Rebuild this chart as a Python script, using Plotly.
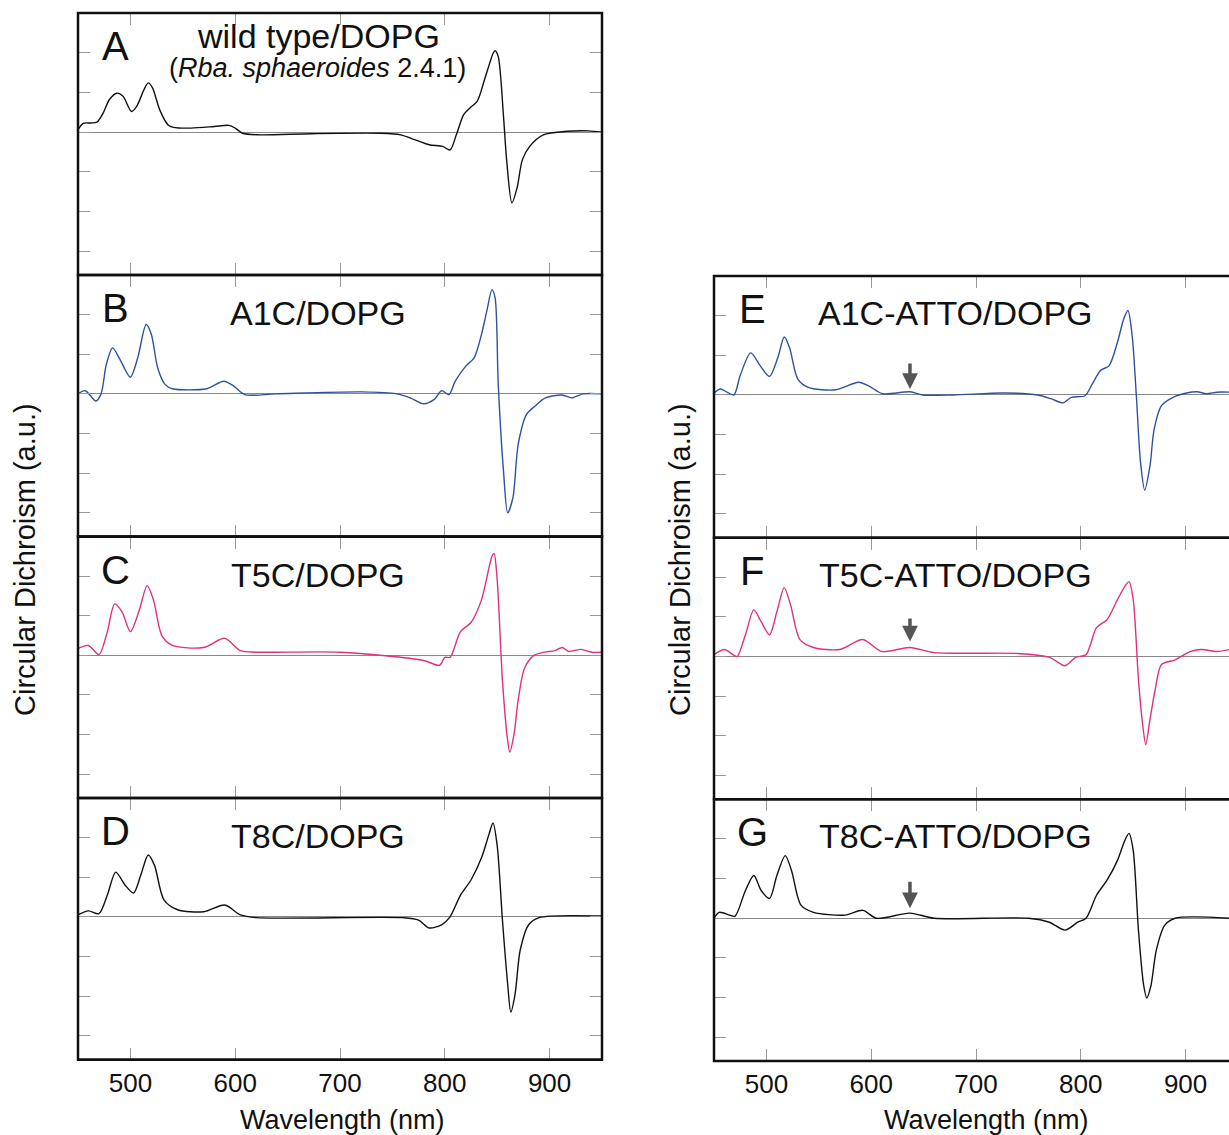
import plotly.graph_objects as go

# ---------------- data (CD in arbitrary units, 1 unit = one y-tick step) -------------
wl_A = [450, 455, 462, 468, 474, 480, 487, 493, 501, 506, 513, 517, 521, 528, 536, 541, 558, 580,
        594, 600, 607, 623, 673, 739, 758, 771, 785, 798, 805, 811, 818, 824, 831, 838, 843, 846,
        848, 851, 856, 859, 864, 869, 874, 881, 894, 917, 937, 950]
cd_A = [0.06, 0.22, 0.23, 0.25, 0.48, 0.82, 0.98, 0.90, 0.52, 0.65, 1.07, 1.24, 1.12, 0.56, 0.18,
        0.12, 0.10, 0.14, 0.17, 0.10, -0.03, -0.07, -0.04, -0.03, -0.07, -0.19, -0.32, -0.36, -0.45,
        -0.07, 0.44, 0.61, 0.78, 1.33, 1.75, 1.98, 2.05, 1.90, 0.40, -0.70, -1.78, -1.40, -0.70,
        -0.36, -0.07, 0.02, 0.03, 0.0]

wl_B = [450, 457, 467, 472, 477, 483, 490, 500, 507, 515, 520, 526, 533, 540, 573, 589, 599, 609,
        639, 721, 754, 767, 780, 790, 797, 804, 810, 820, 828, 835, 840, 845, 848, 851, 856, 860,
        865, 870, 878, 886, 896, 912, 921, 932, 950]
cd_B = [0.0, 0.08, -0.18, 0.0, 0.74, 1.16, 0.87, 0.42, 0.91, 1.75, 1.50, 0.66, 0.24, 0.13, 0.13,
        0.32, 0.19, -0.02, 0.0, 0.05, 0.0, -0.10, -0.25, -0.14, 0.08, -0.02, 0.32, 0.70, 0.91, 1.50,
        2.08, 2.63, 2.42, 0.24, -1.95, -3.00, -2.62, -1.28, -0.52, -0.31, -0.10, -0.03, -0.10, 0.0,
        0.0]

wl_C = [450, 460, 470, 478, 485, 492, 500, 508, 516, 522, 530, 540, 570, 590, 605, 620, 700, 780,
        795, 800, 805, 815, 825, 835, 845, 847, 850, 855, 860, 862, 866, 870, 876, 885, 895, 905,
        912, 918, 930, 940, 950]
cd_C = [0.17, 0.25, 0.02, 0.60, 1.30, 1.10, 0.60, 1.10, 1.76, 1.40, 0.50, 0.25, 0.20, 0.43, 0.12,
        0.08, 0.08, -0.13, -0.25, -0.05, -0.05, 0.60, 0.83, 1.40, 2.50, 2.57, 1.90, -0.63, -2.15,
        -2.44, -2.00, -1.13, -0.33, 0.0, 0.08, 0.12, 0.2, 0.1, 0.15, 0.08, 0.08]

wl_D = [450, 460, 470, 478, 486, 495, 503, 510, 517, 523, 532, 545, 570, 590, 605, 620, 760, 775,
        785, 797, 805, 815, 825, 835, 842, 846, 850, 855, 860, 863, 867, 872, 880, 890, 950]
cd_D = [0.05, 0.15, 0.08, 0.55, 1.13, 0.80, 0.60, 1.06, 1.56, 1.30, 0.43, 0.18, 0.13, 0.30, 0.05,
        -0.02, -0.02, -0.08, -0.28, -0.20, 0.0, 0.55, 0.93, 1.49, 2.07, 2.37, 1.80, -0.08, -1.70,
        -2.40, -1.96, -0.83, -0.20, -0.02, 0.02]

wl_E = [450, 456, 462, 469, 475, 485, 494, 503, 511, 517, 522, 530, 540, 566, 588, 598, 611, 637,
        649, 678, 727, 759, 772, 783, 791, 804, 811, 819, 827, 835, 841, 845, 849, 853, 857, 861,
        866, 870, 877, 888, 901, 911, 920, 930, 942]
cd_E = [0.05, 0.15, 0.08, 0.0, 0.49, 1.06, 0.74, 0.47, 0.95, 1.46, 1.20, 0.40, 0.19, 0.13, 0.32,
        0.22, 0.03, 0.08, 0.0, 0.0, 0.05, 0.0, -0.10, -0.20, -0.06, -0.02, 0.28, 0.62, 0.74, 1.33,
        1.92, 2.13, 1.50, -0.02, -1.70, -2.40, -1.79, -0.86, -0.27, -0.06, 0.05, 0.08, 0.03, 0.07,
        0.07]

wl_F = [450, 460, 468, 472, 480, 488, 495, 503, 510, 517, 523, 532, 545, 570, 592, 610, 637, 660,
        740, 770, 785, 795, 805, 815, 825, 835, 843, 846, 850, 855, 859, 862, 866, 871, 877, 890,
        905, 915, 930, 942]
cd_F = [0.05, 0.18, 0.05, 0.0, 0.55, 1.18, 0.88, 0.55, 1.13, 1.74, 1.31, 0.43, 0.23, 0.18, 0.43,
        0.13, 0.23, 0.10, 0.08, -0.02, -0.23, -0.02, 0.05, 0.73, 0.93, 1.44, 1.81, 1.89, 1.44,
        -0.58, -1.71, -2.22, -1.59, -0.83, -0.20, -0.08, 0.13, 0.18, 0.13, 0.18]

wl_G = [450, 455, 465, 470, 480, 488, 495, 503, 510, 518, 524, 533, 545, 575, 592, 605, 637, 660,
        750, 770, 785, 797, 805, 815, 825, 835, 842, 846, 850, 855, 860, 863, 867, 872, 880, 890, 942]
cd_G = [0.0, 0.15, 0.08, 0.05, 0.70, 1.08, 0.70, 0.50, 1.08, 1.58, 1.20, 0.33, 0.15, 0.08, 0.20,
        0.0, 0.13, 0.0, 0.0, -0.10, -0.30, -0.10, 0.0, 0.58, 0.96, 1.46, 1.96, 2.14, 1.71, -0.30,
        -1.69, -2.01, -1.69, -0.81, -0.18, 0.0, 0.0]

panel_letters = ["A", "B", "C", "D", "E", "F", "G"]
panel_titles = ["wild type/DOPG", "A1C/DOPG", "T5C/DOPG", "T8C/DOPG",
                "A1C-ATTO/DOPG", "T5C-ATTO/DOPG", "T8C-ATTO/DOPG"]
subtitle_A = "(<i>Rba. sphaeroides</i> 2.4.1)"
x_ticks = [500, 600, 700, 800, 900]
y_ticks = [-3, -2, -1, 0, 1, 2]
arrow_wl = 637
arrow_tail = [0.83, 1.00, 0.96]
arrow_tip = [0.15, 0.38, 0.25]

# ---------------- styling / layout ---------------
W, H = 1229, 1135
BLACK = "#111111"
BLUE = "#2c52a0"
PINK = "#e0307f"
FONT = "Liberation Sans, Arial, Helvetica, sans-serif"

series = [(wl_A, cd_A, BLACK), (wl_B, cd_B, BLUE), (wl_C, cd_C, PINK), (wl_D, cd_D, BLACK),
          (wl_E, cd_E, BLUE), (wl_F, cd_F, PINK), (wl_G, cd_G, BLACK)]

# pixel boxes (left, right, top, bottom)
L_COL = (78, 602)
R_COL = (714, 1229)
left_rows = [(13, 275), (275, 536.5), (536.5, 798), (798, 1059.5)]
right_rows = [(276, 537.7), (537.7, 799.3), (799.3, 1061)]
boxes = [(L_COL, r) for r in left_rows] + [(R_COL, r) for r in right_rows]


def px_x(p):
    return p / W


def px_y(p):
    return 1 - p / H


fig = go.Figure()
layout = dict(width=W, height=H, margin=dict(l=0, r=0, t=0, b=0),
              paper_bgcolor="white", plot_bgcolor="white", showlegend=False,
              font=dict(family=FONT, color=BLACK))

annotations = []
shapes = []
for i, ((wl, cd, col), ((xl, xr), (yt, yb))) in enumerate(zip(series, boxes)):
    n = "" if i == 0 else str(i + 1)
    fig.add_trace(go.Scatter(x=wl, y=cd, mode="lines",
                             line=dict(color=col, width=1.4, shape="spline", smoothing=0.8),
                             xaxis="x" + n, yaxis="y" + n, hoverinfo="skip"))
    right = i >= 4
    bottom = i in (3, 6)
    layout["xaxis" + n] = dict(
        domain=[px_x(xl), px_x(xr)], anchor="y" + n,
        range=[450, 450 + (xr - xl) / (524 / 500)] if right else [450, 950],
        tickvals=x_ticks, ticks="inside", ticklen=12, tickwidth=1.2, tickcolor="#999999",
        showline=True, linecolor=BLACK, linewidth=1, mirror="allticks",
        showgrid=False, zeroline=False, showticklabels=bottom,
        tickfont=dict(size=26, color=BLACK, family=FONT), ticklabelstandoff=0,
    )
    layout["yaxis" + n] = dict(
        domain=[px_y(yb), px_y(yt)], anchor="x" + n, range=[-3.6, 3.0],
        tickvals=y_ticks, ticks="inside", ticklen=12, tickwidth=1.2, tickcolor="#999999",
        showline=True, linecolor=BLACK, linewidth=1,
        mirror=False if right else "allticks",
        showgrid=False, zeroline=True, zerolinecolor="#888888", zerolinewidth=1,
        showticklabels=False,
    )
    # frame
    shapes.append(dict(type="rect", xref="paper", yref="paper", layer="above",
                       x0=px_x(xl), x1=px_x(xr + 8 if right else xr),
                       y0=px_y(yb), y1=px_y(yt), line=dict(color=BLACK, width=2.5)))
    # panel letter
    annotations.append(dict(text=panel_letters[i], xref="paper", yref="paper",
                            x=px_x(xl + (37 if not right else 38)), y=px_y(yt + 33),
                            xanchor="center", yanchor="middle", showarrow=False,
                            font=dict(size=40, family=FONT, color=BLACK)))
    title_cx = 318 if not right else 955
    title_cy = yt + (23 if i == 0 else 38 if i < 4 else 37)
    annotations.append(dict(text=panel_titles[i], xref="paper", yref="paper",
                            x=px_x(title_cx), y=px_y(title_cy),
                            xanchor="center", yanchor="middle", showarrow=False,
                            font=dict(size=34, family=FONT, color=BLACK)))
    if i == 0:
        annotations.append(dict(text=subtitle_A, xref="paper", yref="paper",
                                x=px_x(317), y=px_y(yt + 55), xanchor="center",
                                yanchor="middle", showarrow=False,
                                font=dict(size=27, family=FONT, color=BLACK)))
    if right:
        k = i - 4
        annotations.append(dict(x=arrow_wl, y=arrow_tip[k], ax=arrow_wl, ay=arrow_tail[k],
                                xref="x" + n, yref="y" + n, axref="x" + n, ayref="y" + n,
                                text="", showarrow=True, arrowhead=2, arrowsize=0.9,
                                arrowwidth=3.5, arrowcolor="#555555"))

# axis titles
annotations.append(dict(text="Wavelength (nm)", xref="paper", yref="paper", x=px_x(342),
                        y=px_y(1120), xanchor="center", yanchor="middle", showarrow=False,
                        font=dict(size=27, family=FONT, color=BLACK)))
annotations.append(dict(text="Wavelength (nm)", xref="paper", yref="paper", x=px_x(986),
                        y=px_y(1120), xanchor="center", yanchor="middle", showarrow=False,
                        font=dict(size=27, family=FONT, color=BLACK)))
for cx in (25, 680):
    annotations.append(dict(text="Circular Dichroism (a.u.)", xref="paper", yref="paper",
                            x=px_x(cx), y=px_y(560), xanchor="center", yanchor="middle",
                            textangle=-90, showarrow=False,
                            font=dict(size=29, family=FONT, color=BLACK)))

layout["annotations"] = annotations
layout["shapes"] = shapes
fig.update_layout(**layout)
fig.write_html("out.html")
